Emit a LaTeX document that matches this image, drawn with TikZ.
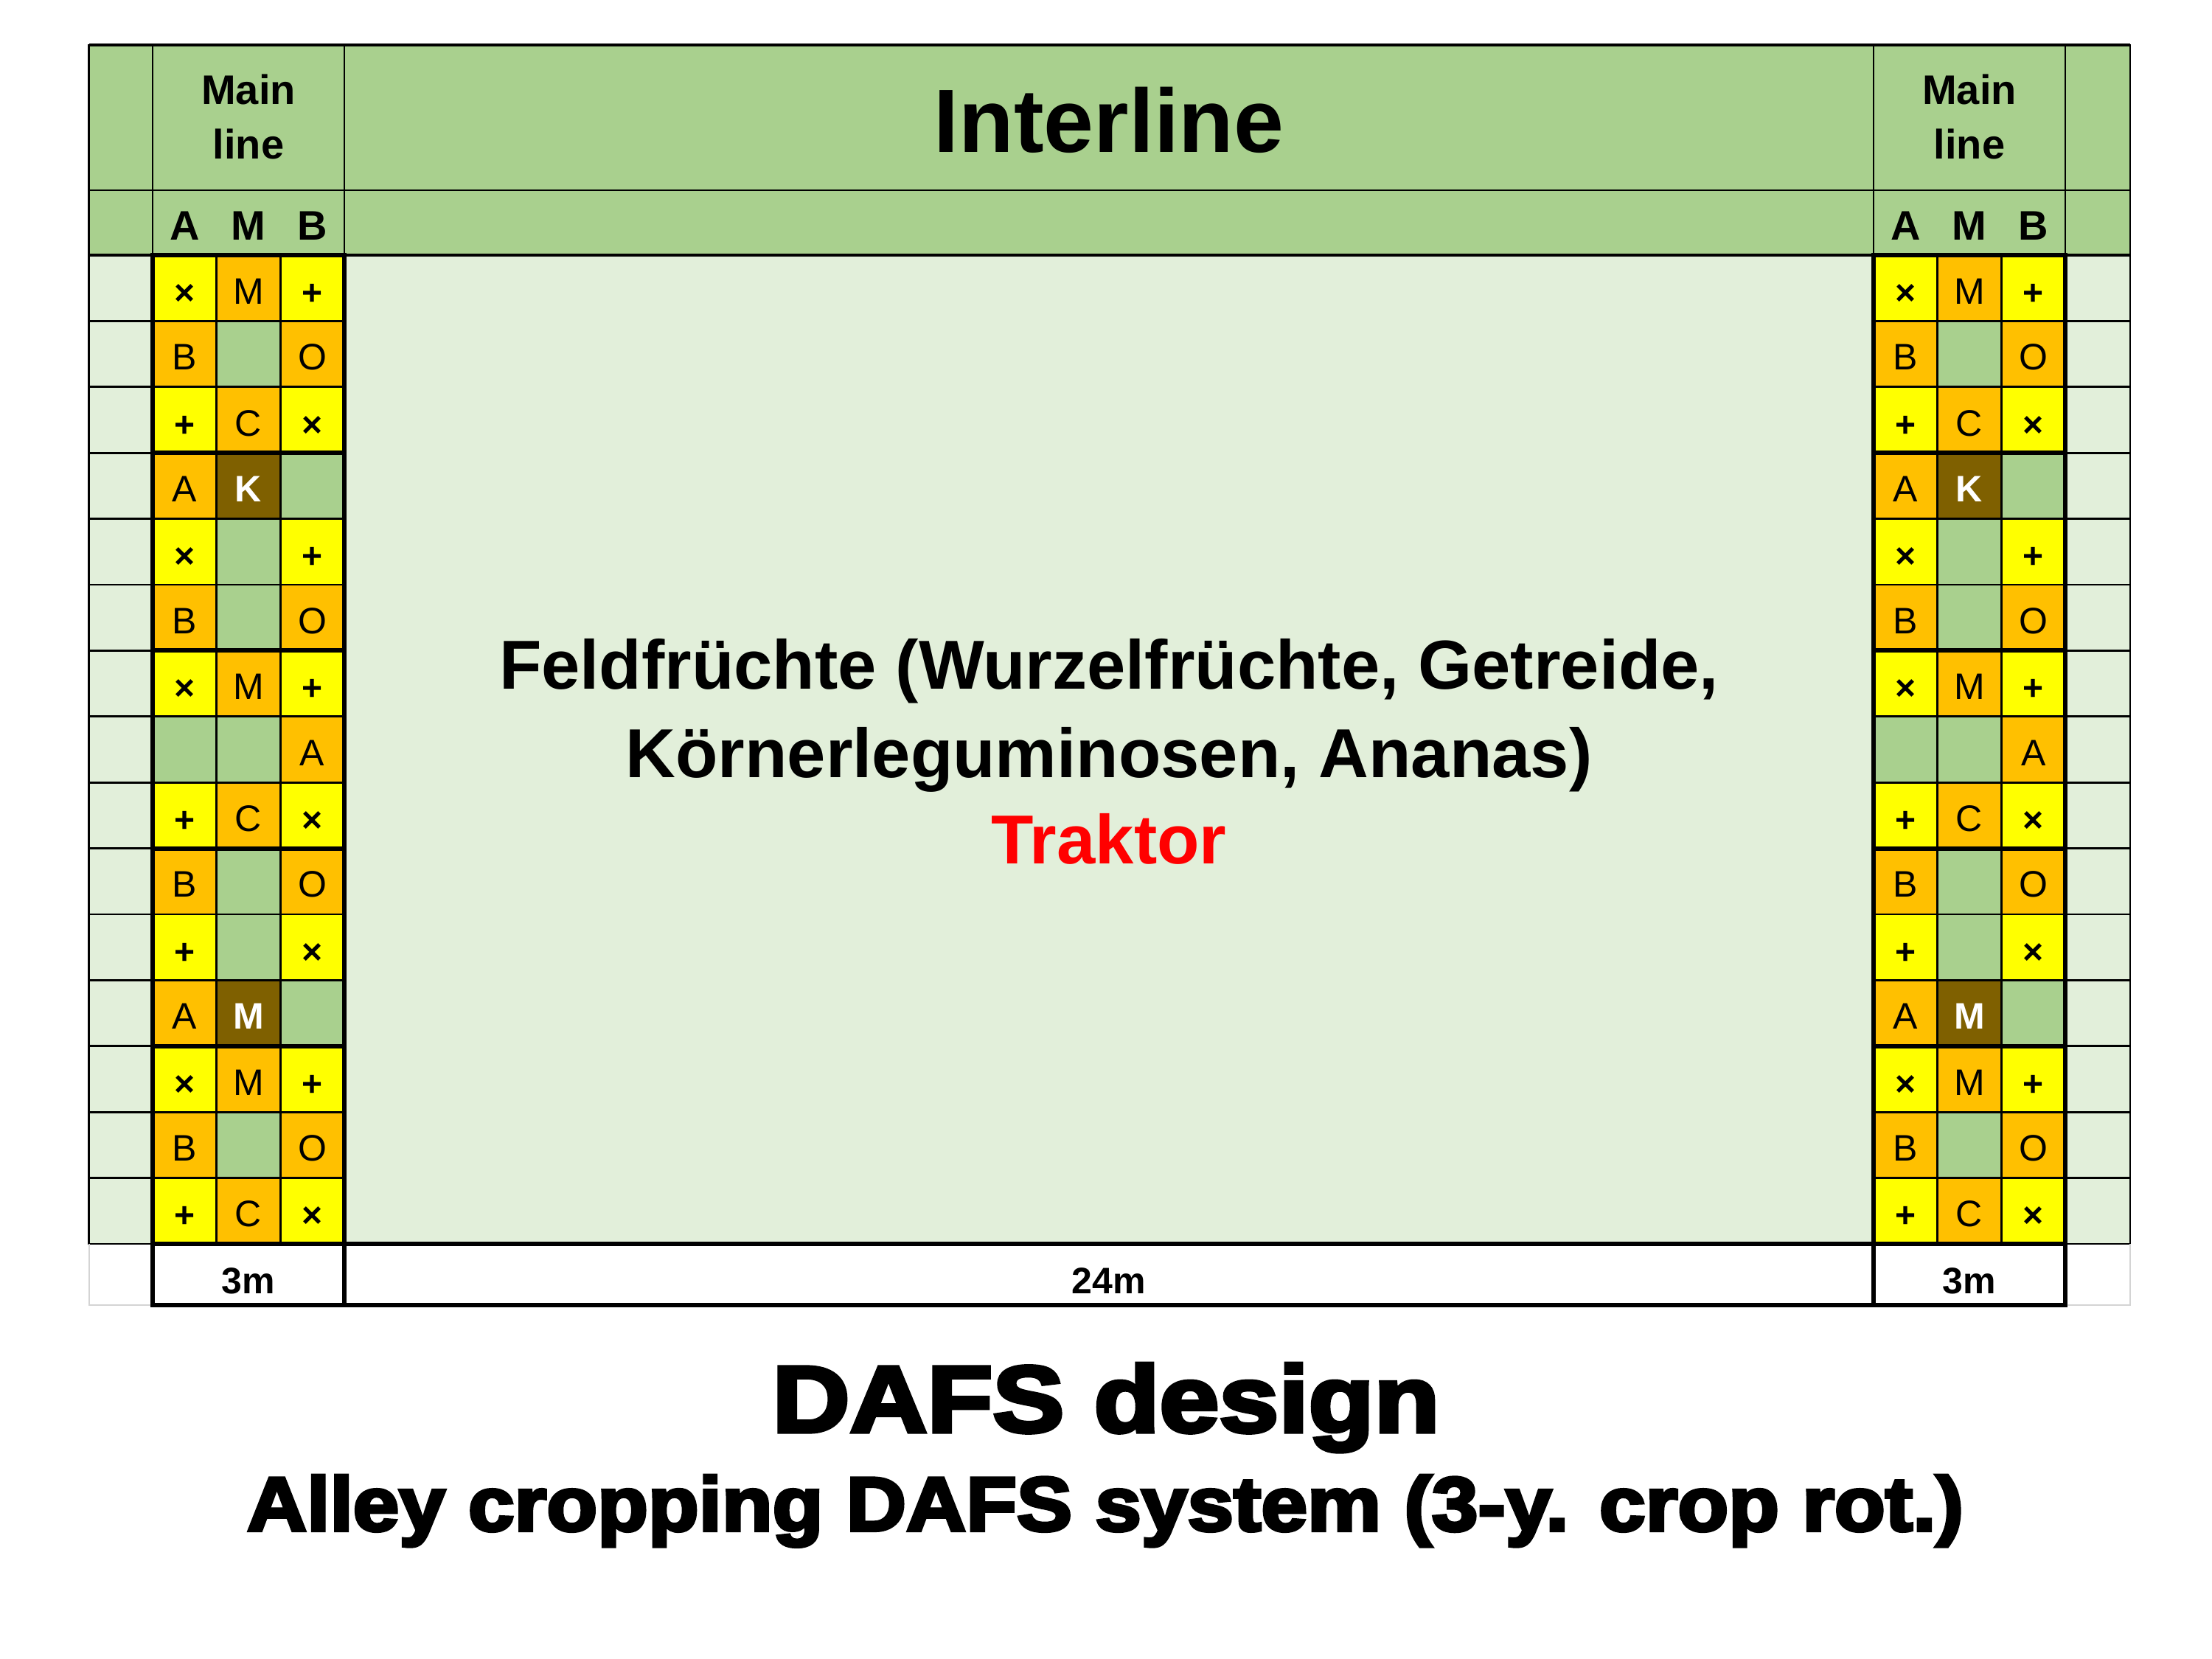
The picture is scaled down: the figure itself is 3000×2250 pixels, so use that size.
\documentclass[tikz,border=0pt]{standalone}
\usepackage{graphicx}
\usepackage{fontspec}
\setmainfont{Liberation Sans}
\newfontfamily\heavyfont[FakeBold=4]{Liberation Sans}
\definecolor{hdr}{HTML}{A9D08E}
\definecolor{field}{HTML}{E2EFDA}
\definecolor{cyel}{HTML}{FFFF00}
\definecolor{corg}{HTML}{FFC000}
\definecolor{cbrn}{HTML}{7F6000}
\definecolor{cgrey}{HTML}{D4D4D4}
\definecolor{cred}{HTML}{FF0000}

% grid geometry (1 unit = 1pt, y grows downwards)
\def\cw{86.667}
\def\rh{89.4}
\def\Xa{120.5}\def\Xb{207}\def\Xc{467}\def\Xd{2541}\def\Xe{2801}\def\Xf{2889}
\def\Ya{61}\def\Yb{258}\def\Yc{346}\def\Yd{1687}\def\Ye{1770}

\tikzset{
  cellbase/.style={rectangle, inner sep=0pt, outer sep=0pt, draw=none,
    minimum width=\cw pt, minimum height=\rh pt, text depth=0pt},
  ycell/.style={cellbase, fill=cyel, text height=45pt, font=\bfseries\fontsize{48}{48}\selectfont},
  ocell/.style={cellbase, fill=corg, text height=43pt, font=\fontsize{50}{50}\selectfont},
  gcell/.style={cellbase, fill=hdr},
  kcell/.style={cellbase, fill=cbrn, text height=43pt, text=white, font=\bfseries\fontsize{50}{50}\selectfont},
  thinline/.style={line width=2.8pt, line cap=rect},
  thickline/.style={line width=6pt, line cap=rect},
  hdrtext/.style={anchor=base, inner sep=0pt, font=\bfseries\fontsize{56}{56}\selectfont},
  midtext/.style={anchor=base, inner sep=0pt, font=\bfseries\fontsize{94}{94}\selectfont},
  scaletext/.style={anchor=base, inner sep=0pt, font=\bfseries\fontsize{50}{50}\selectfont},
}

% one row of a main line: name, left x, row index, then style/text for A, M, B
\newcommand\mrow[9]{%
  \node[#4] (#1-#3-a) at ({#2+0.5*\cw},{\Yc+(#3+0.5)*\rh}) {#5};
  \node[#6] (#1-#3-m) at ({#2+1.5*\cw},{\Yc+(#3+0.5)*\rh}) {#7};
  \node[#8] (#1-#3-b) at ({#2+2.5*\cw},{\Yc+(#3+0.5)*\rh}) {#9};
}

% complete main line (tree row) with its grid
\newcommand\mainline[2]{%
  \mrow{#1}{#2}{0}{ycell}{×}{ocell}{M}{ycell}{+}
  \mrow{#1}{#2}{1}{ocell}{B}{gcell}{}{ocell}{O}
  \mrow{#1}{#2}{2}{ycell}{+}{ocell}{C}{ycell}{×}
  \mrow{#1}{#2}{3}{ocell}{A}{kcell}{K}{gcell}{}
  \mrow{#1}{#2}{4}{ycell}{×}{gcell}{}{ycell}{+}
  \mrow{#1}{#2}{5}{ocell}{B}{gcell}{}{ocell}{O}
  \mrow{#1}{#2}{6}{ycell}{×}{ocell}{M}{ycell}{+}
  \mrow{#1}{#2}{7}{gcell}{}{gcell}{}{ocell}{A}
  \mrow{#1}{#2}{8}{ycell}{+}{ocell}{C}{ycell}{×}
  \mrow{#1}{#2}{9}{ocell}{B}{gcell}{}{ocell}{O}
  \mrow{#1}{#2}{10}{ycell}{+}{gcell}{}{ycell}{×}
  \mrow{#1}{#2}{11}{ocell}{A}{kcell}{M}{gcell}{}
  \mrow{#1}{#2}{12}{ycell}{×}{ocell}{M}{ycell}{+}
  \mrow{#1}{#2}{13}{ocell}{B}{gcell}{}{ocell}{O}
  \mrow{#1}{#2}{14}{ycell}{+}{ocell}{C}{ycell}{×}
  \draw[thinline] ({#2+\cw},\Yc) -- ({#2+\cw},\Yd);
  \draw[thinline] ({#2+2*\cw},\Yc) -- ({#2+2*\cw},\Yd);
  \foreach \i in {1,2,4,5,7,8,10,11,13,14}
    \draw[thinline] (#2,{\Yc+\i*\rh}) -- ({#2+3*\cw},{\Yc+\i*\rh});
  \foreach \i in {3,6,9,12}
    \draw[thickline] (#2,{\Yc+\i*\rh}) -- ({#2+3*\cw},{\Yc+\i*\rh});
  \draw[thickline] (#2,\Yd) -- ({#2+3*\cw},\Yd);
  \draw[thickline] (#2,\Yc) rectangle ({#2+3*\cw},\Ye);
  % column heads
  \node[hdrtext] (#1-ha) at ({#2+0.5*\cw},325) {A};
  \node[hdrtext] (#1-hm) at ({#2+1.5*\cw},325) {M};
  \node[hdrtext] (#1-hb) at ({#2+2.5*\cw},325) {B};
  \node[hdrtext] (#1-t1) at ({#2+1.5*\cw},142) {Main};
  \node[hdrtext] (#1-t2) at ({#2+1.5*\cw},216) {line};
  \node[scaletext] (#1-w) at ({#2+1.5*\cw},1754) {3m};
}

\begin{document}
\begin{tikzpicture}[x=1pt,y=-1pt]
  \fill[white] (0,0) rectangle (3000,2250);
  \useasboundingbox (0,0) rectangle (3000,2250);

  % header band and field area
  \fill[hdr] (\Xa,\Ya) rectangle (\Xf,\Yc);
  \fill[field] (\Xa,\Yc) rectangle (\Xf,\Yd);

  % empty border columns
  \foreach \i in {1,...,14} {
    \draw[thinline] (\Xa,{\Yc+\i*\rh}) -- (\Xb,{\Yc+\i*\rh});
    \draw[thinline] (\Xe,{\Yc+\i*\rh}) -- (\Xf,{\Yc+\i*\rh});
  }
  \draw[thinline] (\Xa,\Ya) -- (\Xa,\Yd) -- (\Xb,\Yd);
  \draw[thinline] (\Xf,\Ya) -- (\Xf,\Yd) -- (\Xe,\Yd);
  \draw[cgrey, line width=2pt] (\Xa,\Yd) -- (\Xa,\Ye) -- (\Xb,\Ye);
  \draw[cgrey, line width=2pt] (\Xf,\Yd) -- (\Xf,\Ye) -- (\Xe,\Ye);

  % header grid
  \draw[line width=3.5pt] (\Xa,\Ya) -- (\Xf,\Ya);
  \draw[thinline] (\Xa,\Yb) -- (\Xf,\Yb);
  \draw[line width=4pt] (\Xa,\Yc) -- (\Xf,\Yc);
  \foreach \x in {\Xb,\Xc,\Xd,\Xe}
    \draw[thinline] (\x,\Ya) -- (\x,\Yc);

  % scale row under the interline
  \draw[thickline] (\Xc,\Yd) -- (\Xd,\Yd);
  \draw[thickline] (\Xc,\Ye) -- (\Xd,\Ye);

  % the two main lines
  \mainline{L}{\Xb}
  \mainline{R}{\Xd}

  % interline labels
  \node[anchor=base, inner sep=0pt, font=\bfseries\fontsize{122}{122}\selectfont] (inter) at (1504,207) {Interline};
  \node[midtext] (crop1) at (1504,934) {Feldfrüchte (Wurzelfrüchte, Getreide,};
  \node[midtext] (crop2) at (1504,1054) {Körnerleguminosen, Ananas)};
  \node[midtext, text=cred] (tractor) at (1504,1171) {Traktor};
  \node[scaletext] (w24) at (1504,1754) {24m};

  % titles
  \node[anchor=base, inner sep=0pt] (title) at (1500,1942)
    {\resizebox{905pt}{\height}{\heavyfont\bfseries\fontsize{128}{128}\selectfont DAFS design}};
  \node[anchor=base, inner sep=0pt] (subtitle) at (1499,2076)
    {\resizebox{2328pt}{\height}{\heavyfont\bfseries\fontsize{104}{104}\selectfont Alley cropping DAFS system (3-y. crop rot.)}};
\end{tikzpicture}
\end{document}
